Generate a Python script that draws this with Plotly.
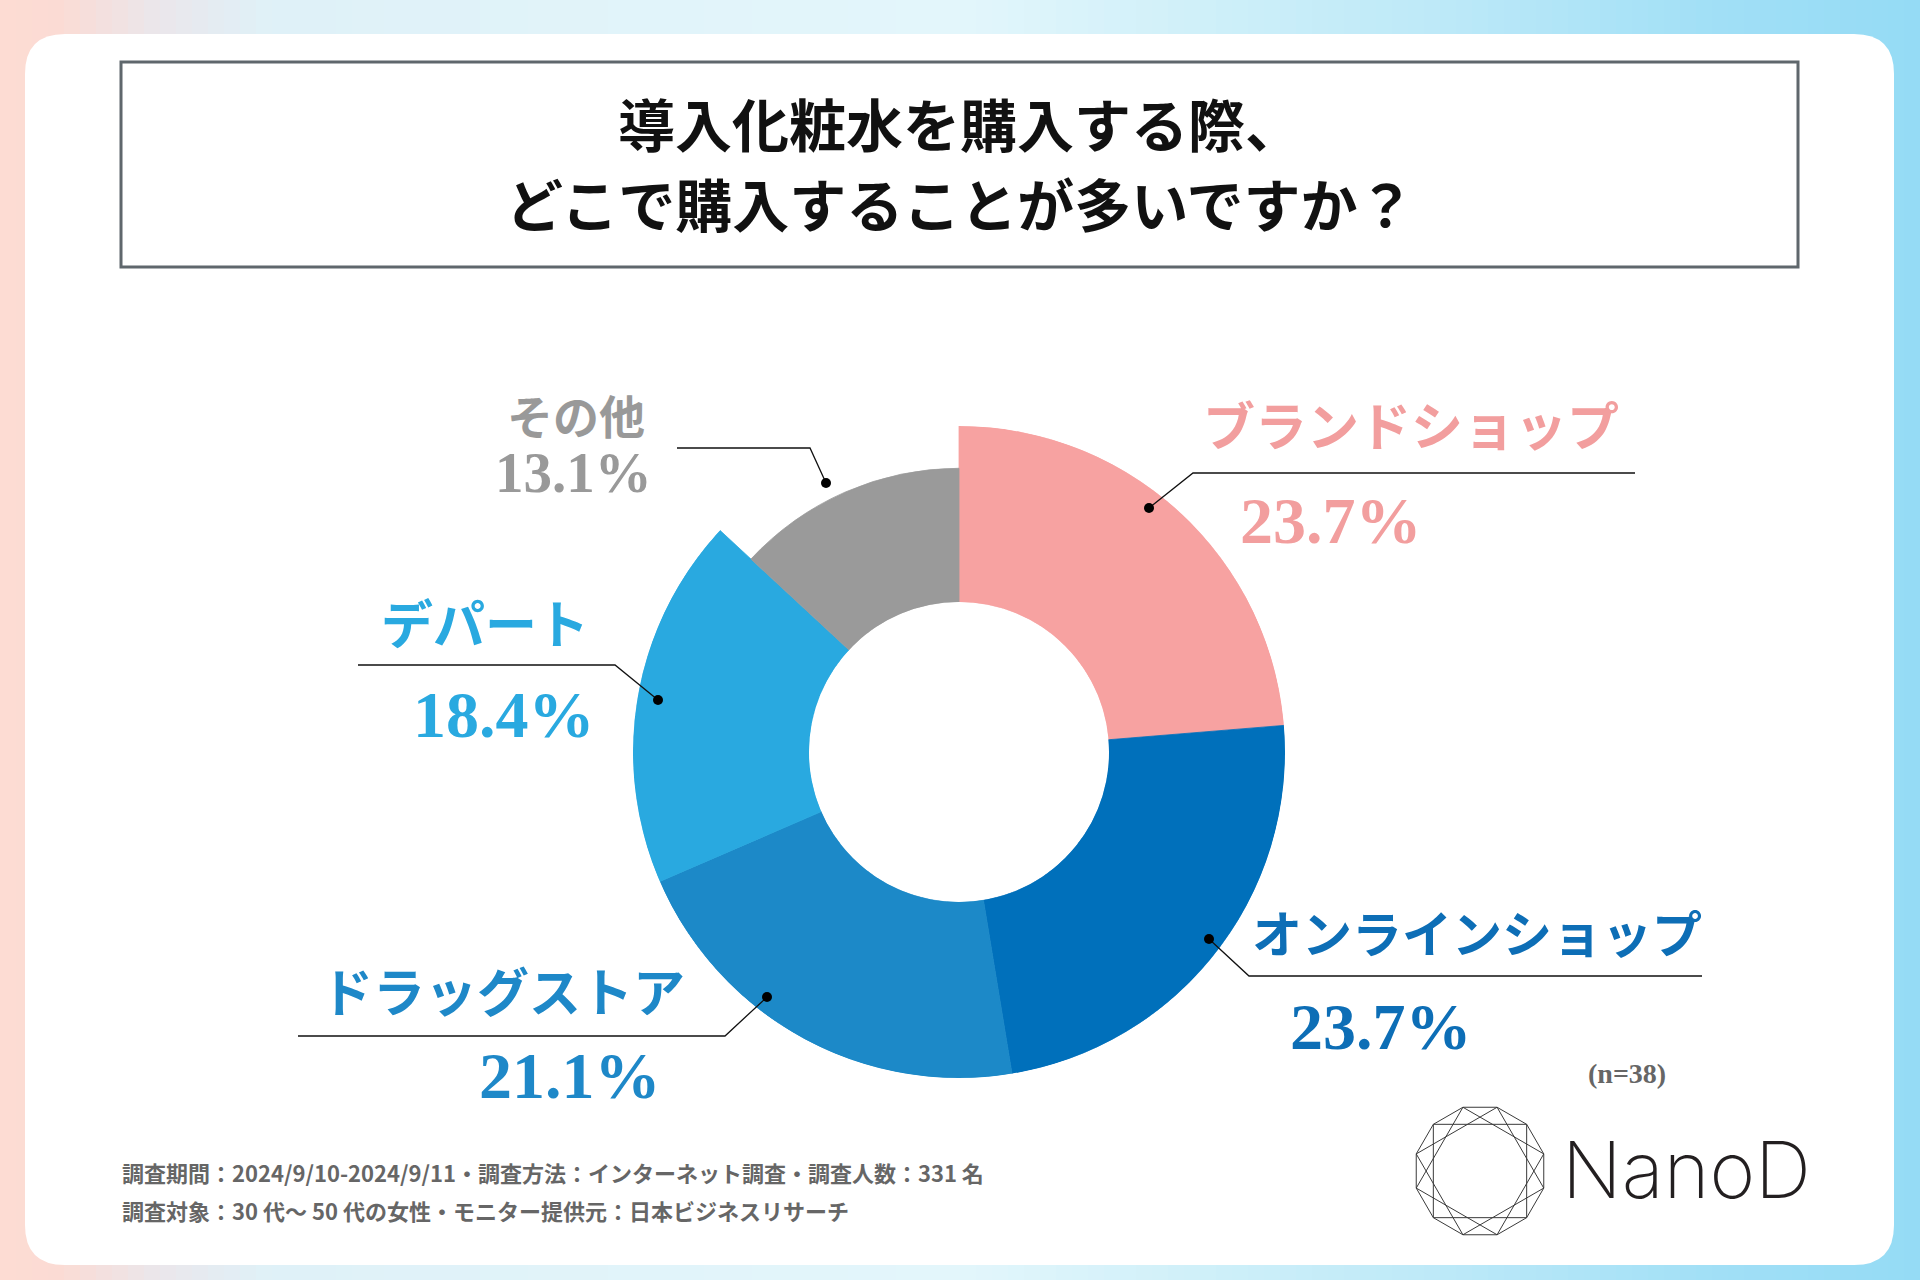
import math

import plotly.graph_objects as go

W, H = 1920, 1280

# survey data
categories = ["ブランドショップ", "オンラインショップ", "ドラッグストア", "デパート", "その他"]
shares = [23.7, 23.7, 21.1, 18.4, 13.1]
sample_note = "(n=38)"
title_lines = ["導入化粧水を購入する際、", "どこで購入することが多いですか？"]
footnotes = [
    "調査期間：2024/9/10-2024/9/11・調査方法：インターネット調査・調査人数：331 名",
    "調査対象：30 代～ 50 代の女性・モニター提供元：日本ビジネスリサーチ",
]
brand = "NanoD"

# styling
slice_colors = ["#f7a2a1", "#0070bb", "#1c89c8", "#29a9e0", "#9a9a9a"]
text_colors = ["#f29e9e", "#0d6eb6", "#1e88c8", "#29a9e0", "#999999"]
slice_reach = [1, 1, 1, 1, 0.76]
CX, CY, R_OUT, R_IN = 959, 752, 326, 150

# label / percent centres and leader lines (dot, bend, end), in pixels
label_pos = [(1411, 423), (1477, 931), (503, 989), (485, 621), (576, 414)]
label_size = [52, 50, 52, 52, 46]
pct_pos = [(1331, 520), (1381, 1026), (570, 1075), (504, 714), (573, 472)]
pct_size = [66, 66, 66, 66, 57]
leaders = [
    [(1149, 508), (1193, 473), (1635, 473)],
    [(1209, 939), (1249, 976), (1702, 976)],
    [(767, 997), (725, 1036), (298, 1036)],
    [(658, 700), (615, 665), (358, 665)],
    [(826, 483), (810, 448), (677, 448)],
]

JP = "Noto Sans CJK JP"
SERIF = "Liberation Serif"


def fx(x):
    return x / W


def fy(y):
    return 1 - y / H


def hexmix(c1, c2, t):
    a = [int(c1[i:i + 2], 16) for i in (1, 3, 5)]
    b = [int(c2[i:i + 2], 16) for i in (1, 3, 5)]
    return "#" + "".join(f"{round(a[k] + (b[k] - a[k]) * t):02x}" for k in range(3))


grad_stops = [
    (0.0, "#fddcd3"), (0.03, "#fbdbd4"), (0.08, "#ebe6ea"), (0.14, "#dff1f8"),
    (0.5, "#e3f6fb"), (0.62, "#d0f0f9"), (0.75, "#bde9f8"), (0.9, "#a0dff6"),
    (1.0, "#95dbf5"),
]


def grad_color(t):
    for (t0, c0), (t1, c1) in zip(grad_stops[:-1], grad_stops[1:]):
        if t0 <= t <= t1:
            return hexmix(c0, c1, (t - t0) / (t1 - t0))
    return grad_stops[-1][1]


def rounded_rect(x0, y0, x1, y1, r):
    pts = [
        ("M", [(x0 + r, y0)]), ("L", [(x1 - r, y0)]), ("Q", [(x1, y0), (x1, y0 + r)]),
        ("L", [(x1, y1 - r)]), ("Q", [(x1, y1), (x1 - r, y1)]),
        ("L", [(x0 + r, y1)]), ("Q", [(x0, y1), (x0, y1 - r)]),
        ("L", [(x0, y0 + r)]), ("Q", [(x0, y0), (x0 + r, y0)]),
    ]
    s = ""
    for cmd, p in pts:
        s += cmd + " " + " ".join(f"{fx(a):.5f},{fy(b):.5f}" for a, b in p) + " "
    return s + "Z"


shapes = []

# background gradient strips
n_strips = 120
sw = W / n_strips
for i in range(n_strips):
    shapes.append(dict(
        type="rect", xref="paper", yref="paper", layer="below",
        x0=fx(i * sw), x1=fx(min(W, (i + 1) * sw + 1)), y0=0, y1=1,
        fillcolor=grad_color((i + 0.5) / n_strips), line_width=0,
    ))

# white card
shapes.append(dict(
    type="path", xref="paper", yref="paper", layer="below",
    path=rounded_rect(25, 34, 1894, 1265, 40),
    fillcolor="#ffffff", line_width=0,
))

# title frame
shapes.append(dict(
    type="rect", xref="paper", yref="paper", layer="below",
    x0=fx(121), x1=fx(1798), y0=fy(267), y1=fy(62),
    fillcolor="#ffffff", line=dict(color="#5f676c", width=3),
))

# leader lines and dots
for (d, b, e) in leaders:
    shapes.append(dict(
        type="path", xref="paper", yref="paper", layer="above",
        path=f"M {fx(d[0])},{fy(d[1])} L {fx(b[0])},{fy(b[1])} L {fx(e[0])},{fy(e[1])}",
        line=dict(color="#111111", width=1.3),
    ))
    shapes.append(dict(
        type="circle", xref="paper", yref="paper", layer="above",
        x0=fx(d[0] - 5), x1=fx(d[0] + 5), y0=fy(d[1] + 5), y1=fy(d[1] - 5),
        fillcolor="#000000", line_width=0,
    ))

# logo mark: dodecagon plus three rotated squares
LX, LY, LR = 1480, 1171, 66
verts = [(LX + LR * math.cos(math.radians(15 + 30 * k)),
          LY - LR * math.sin(math.radians(15 + 30 * k))) for k in range(12)]
loops = [list(range(12))] + [[s, s + 3, s + 6, s + 9] for s in range(3)]
for loop in loops:
    p = "M " + " L ".join(f"{fx(verts[k][0]):.5f},{fy(verts[k][1]):.5f}" for k in loop) + " Z"
    shapes.append(dict(
        type="path", xref="paper", yref="paper", layer="above",
        path=p, line=dict(color="#3a3a3a", width=1),
    ))

# donut
theta, widths = [], []
cum = 0
for v in shares:
    theta.append((cum + v / 2) * 3.6)
    widths.append(v * 3.6)
    cum += v

fig = go.Figure(go.Barpolar(
    r=slice_reach,
    theta=theta,
    width=widths,
    marker=dict(color=slice_colors, line=dict(color=slice_colors, width=0.8)),
    hoverinfo="skip",
    showlegend=False,
))

annotations = []
for i, line in enumerate(title_lines):
    annotations.append(dict(
        x=fx(960), y=fy(122 + i * 80), text=line,
        font=dict(family=JP, size=57, color="#111111", weight="bold"),
    ))

for i, cat in enumerate(categories):
    annotations.append(dict(
        x=fx(label_pos[i][0]), y=fy(label_pos[i][1]), text=cat,
        font=dict(family=JP, size=label_size[i], color=text_colors[i], weight="bold"),
    ))
    annotations.append(dict(
        x=fx(pct_pos[i][0]), y=fy(pct_pos[i][1]), text=f"{shares[i]:.1f}%",
        font=dict(family=SERIF, size=pct_size[i], color=text_colors[i], weight="bold"),
    ))

annotations.append(dict(
    x=fx(1627), y=fy(1073), text=sample_note,
    font=dict(family=SERIF, size=28, color="#666666", weight="bold"),
))

for i, note in enumerate(footnotes):
    annotations.append(dict(
        x=fx(120), y=fy(1172 + i * 38), text=note, xanchor="left",
        font=dict(family=JP, size=22, color="#666666", weight="bold"),
    ))

annotations.append(dict(
    x=fx(1560), y=fy(1169), text=brand, xanchor="left",
    font=dict(family="Inter", size=78, color="#231f20", weight=200),
))

for a in annotations:
    a.update(xref="paper", yref="paper", showarrow=False)
    a.setdefault("xanchor", "center")
    a.setdefault("yanchor", "middle")

fig.update_layout(
    width=W,
    height=H,
    margin=dict(l=0, r=0, t=0, b=0),
    paper_bgcolor="#ffffff",
    plot_bgcolor="rgba(0,0,0,0)",
    showlegend=False,
    polar=dict(
        domain=dict(x=[fx(CX - R_OUT), fx(CX + R_OUT)], y=[fy(CY + R_OUT), fy(CY - R_OUT)]),
        hole=R_IN / R_OUT,
        bgcolor="rgba(0,0,0,0)",
        bargap=0,
        radialaxis=dict(visible=False, range=[0, 1]),
        angularaxis=dict(visible=False, direction="clockwise", rotation=90),
    ),
    shapes=shapes,
    annotations=annotations,
)

fig.write_html(
    "out.html",
    config={"displayModeBar": False},
    post_script="document.body.style.margin = '0';",
)
